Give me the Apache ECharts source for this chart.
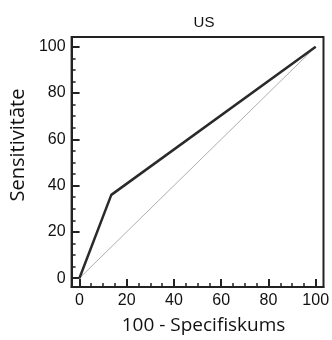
<!DOCTYPE html>
<html><head><meta charset="utf-8">
<script src="https://cdn.jsdelivr.net/npm/echarts@6/dist/echarts.min.js"></script>
<style>html,body{margin:0;padding:0;background:#fff}#c{width:332px;height:340px}</style>
</head><body><div id="c"></div>
<script>
var titleText = 'US';
var xName = '100 - Specifiskums';
var yName = 'Sensitivitāte';
var majorTicks = [0, 20, 40, 60, 80, 100];
var minorTicks = [5, 10, 15, 25, 30, 35, 45, 50, 55, 65, 70, 75, 85, 90, 95];
var rocX = [0, 13.5, 100];
var rocY = [0, 36, 100];
var refX = [0, 100];
var refY = [0, 100];

var AX_MIN_X = -3.3, AX_MAX_X = 103.3;
var AX_MIN_Y = -3.8, AX_MAX_Y = 104.2;
var dark = '#222';

function mkAxis(isX, major) {
  var a = {
    type: 'value',
    min: isX ? AX_MIN_X : AX_MIN_Y,
    max: isX ? AX_MAX_X : AX_MAX_Y,
    position: isX ? 'bottom' : 'left',
    splitLine: {show: false},
    axisLine: {show: major, onZero: false, lineStyle: {color: dark, width: 2}},
    axisTick: {show: true, inside: true, length: major ? 8 : 4,
               lineStyle: {color: dark, width: major ? 2 : 1.5},
               customValues: major ? majorTicks : minorTicks},
    axisLabel: {show: major, customValues: majorTicks, color: '#111',
                fontFamily: 'Liberation Sans', fontSize: 16, margin: 6}
  };
  if (major) {
    a.name = isX ? xName : yName;
    a.nameLocation = 'middle';
    a.nameGap = isX ? 29 : 40;
    a.nameTextStyle = isX
      ? {fontFamily: 'Open Sans', fontSize: 19, color: '#111', padding: [0, 0, 0, 12]}
      : {fontFamily: 'Open Sans', fontSize: 20, color: '#111', padding: [0, 0, 0, 34]};
  }
  return a;
}

var chart = echarts.init(document.getElementById('c'));
chart.setOption({
  animation: false,
  title: {text: titleText, left: 199, top: 10, textAlign: 'center',
          textStyle: {fontFamily: 'Liberation Sans', fontSize: 15, fontWeight: 'normal', color: '#111'}},
  grid: {left: 70, top: 37, right: 7, bottom: 47, show: true, borderColor: dark, borderWidth: 2, backgroundColor: 'transparent'},
  xAxis: [mkAxis(true, true), mkAxis(true, false)],
  yAxis: [mkAxis(false, true), mkAxis(false, false)],
  series: [
    {type: 'line', data: refX.map(function (x, i) { return [x, refY[i]]; }), showSymbol: false,
     lineStyle: {color: '#999', width: 0.8}},
    {type: 'line', data: rocX.map(function (x, i) { return [x, rocY[i]]; }), showSymbol: false,
     lineStyle: {color: '#2a2a2a', width: 2.5}}
  ]
});
</script></body></html>
